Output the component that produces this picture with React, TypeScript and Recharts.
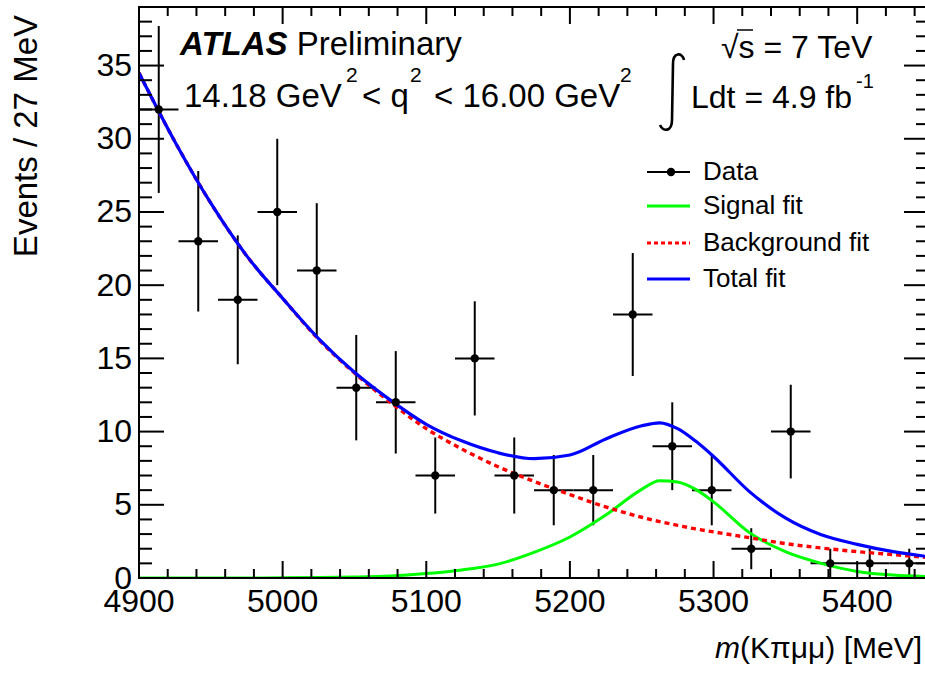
import { ComposedChart, ErrorBar, Line, Scatter, XAxis, YAxis } from "recharts"

// data points: bin centres (27.5 MeV bins), events and sqrt(N) errors
const binCenters = [4913.75, 4941.25, 4968.75, 4996.25, 5023.75, 5051.25, 5078.75, 5106.25, 5133.75, 5161.25, 5188.75, 5216.25, 5243.75, 5271.25, 5298.75, 5326.25, 5353.75, 5381.25, 5408.75, 5436.25]
const events = [32, 23, 19, 25, 21, 13, 12, 7, 15, 7, 6, 6, 18, 9, 6, 2, 10, 1, 1, 1]
const eventErrors = [5.7, 4.8, 4.4, 5.0, 4.6, 3.6, 3.5, 2.6, 3.9, 2.6, 2.4, 2.4, 4.2, 3.0, 2.4, 1.4, 3.2, 1.0, 1.0, 1.0]
const binHalfWidth = 13.75

// fit curves
const curveX = [4900, 4925, 4950, 4975, 5000, 5025, 5050, 5075, 5100, 5125, 5150, 5175, 5200, 5225, 5250, 5262.5, 5275, 5287.5, 5300, 5325, 5350, 5375, 5400, 5425, 5450]
const signalFit = [0, 0, 0, 0, 0.02, 0.03, 0.06, 0.13, 0.3, 0.55, 0.95, 1.75, 2.8, 4.3, 6.05, 6.65, 6.55, 6.05, 5.2, 3.1, 1.8, 1.0, 0.45, 0.2, 0.1]
const backgroundFit = [34.5, 29.8, 25.6, 22.0, 19.1, 16.3, 14.0, 12.0, 10.2, 8.8, 7.6, 6.6, 5.7, 4.85, 4.15, 3.85, 3.6, 3.35, 3.15, 2.75, 2.35, 2.05, 1.8, 1.6, 1.4]
const totalFit = [34.5, 29.8, 25.6, 22.0, 19.1, 16.35, 14.05, 12.15, 10.5, 9.35, 8.55, 8.15, 8.4, 9.5, 10.4, 10.6, 10.2, 9.35, 8.3, 5.9, 4.1, 2.95, 2.3, 1.8, 1.45]

const xMajorTicks = [4900, 5000, 5100, 5200, 5300, 5400]
const yMajorTicks = [0, 5, 10, 15, 20, 25, 30, 35]

const W = 940
const H = 679
const PLOT_LEFT = 139
const PLOT_TOP = 7
const PLOT_RIGHT = 929
const PLOT_BOTTOM = 578
const FONT = "'Liberation Sans', Arial, Helvetica, sans-serif"

const xTicks: number[] = []
for (let v = 4900; v < 5450; v += 20) xTicks.push(v)
const yTicks: number[] = []
for (let v = 0; v <= 39; v += 1) yTicks.push(v)

const points = binCenters.map((x, i) => ({ x, y: events[i], ey: eventErrors[i], ex: binHalfWidth }))
const curves = curveX.map((x, i) => ({ x, signal: signalFit[i], background: backgroundFit[i], total: totalFit[i] }))

const XTick = (props: any) => {
	const { x, payload } = props
	const major = xMajorTicks.includes(payload.value)
	const len = major ? 17 : 9
	return (
		<g>
			<line x1={x} x2={x} y1={PLOT_BOTTOM} y2={PLOT_BOTTOM - len} stroke="#000" strokeWidth={2} />
			<line x1={x} x2={x} y1={PLOT_TOP} y2={PLOT_TOP + len} stroke="#000" strokeWidth={2} />
			{major && (
				<text x={x} y={612} textAnchor="middle" fontSize={32} fontFamily={FONT} fill="#000">
					{payload.value}
				</text>
			)}
		</g>
	)
}

const YTick = (props: any) => {
	const { y, payload } = props
	const major = yMajorTicks.includes(payload.value)
	const len = major ? 25 : 13
	return (
		<g>
			<line x1={PLOT_LEFT} x2={PLOT_LEFT + len} y1={y} y2={y} stroke="#000" strokeWidth={2} />
			<line x1={PLOT_RIGHT} x2={PLOT_RIGHT - len} y1={y} y2={y} stroke="#000" strokeWidth={2} />
			{major && (
				<text x={132} y={y + 10.5} textAnchor="end" fontSize={32} fontFamily={FONT} fill="#000">
					{payload.value}
				</text>
			)}
		</g>
	)
}

const Dot = (props: any) => <circle cx={props.cx} cy={props.cy} r={4.2} fill="#000" />

const Overlay = () => (
	<svg width={W} height={H} style={{ position: "absolute", left: 0, top: 0, pointerEvents: "none" }} fontFamily={FONT}>
		<rect x={PLOT_LEFT} y={PLOT_TOP} width={PLOT_RIGHT - PLOT_LEFT} height={PLOT_BOTTOM - PLOT_TOP} fill="none" stroke="#000" strokeWidth={2} />

		{/* axis titles */}
		<text transform="translate(37,15) rotate(-90)" textAnchor="end" fontSize={33}>Events / 27 MeV</text>
		<text x={922} y={658} textAnchor="end" fontSize={30}>
			<tspan fontStyle="italic">m</tspan>(Kπμμ) [MeV]
		</text>

		{/* labels top left */}
		<text x={180} y={55} fontSize={33}>
			<tspan fontWeight="bold" fontStyle="italic">ATLAS</tspan> Preliminary
		</text>
		<text x={184} y={107} fontSize={33}>14.18 GeV</text>
		<text x={346} y={82} fontSize={21}>2</text>
		<text x={362} y={107} fontSize={33}>&lt; q</text>
		<text x={410} y={82} fontSize={21}>2</text>
		<text x={434} y={107} fontSize={33}>&lt; 16.00 GeV</text>
		<text x={620} y={82} fontSize={21}>2</text>

		{/* energy and luminosity */}
		<text x={721} y={58} fontSize={32}>√s = 7 TeV</text>
		<line x1={737} x2={753} y1={30} y2={30} stroke="#000" strokeWidth={1.5} />
		<path d="M 684 60 C 682 52, 673 52, 673 64 L 672 120 C 672 132, 663 132, 660 125" fill="none" stroke="#000" strokeWidth={2.6} />
		<text x={691} y={108} fontSize={32}>Ldt = 4.9 fb</text>
		<text x={856} y={88} fontSize={20}>-1</text>

		{/* legend */}
		<line x1={647} x2={690} y1={172} y2={172} stroke="#000" strokeWidth={2} />
		<circle cx={671} cy={172} r={4.2} fill="#000" />
		<text x={703} y={180} fontSize={26}>Data</text>
		<line x1={647} x2={690} y1={206} y2={206} stroke="#00ff00" strokeWidth={3} />
		<text x={703} y={214} fontSize={26}>Signal fit</text>
		<line x1={647} x2={690} y1={243} y2={243} stroke="#ff0000" strokeWidth={3} strokeDasharray="4 3" />
		<text x={703} y={251} fontSize={26}>Background fit</text>
		<line x1={647} x2={690} y1={279} y2={279} stroke="#0000ff" strokeWidth={3} />
		<text x={703} y={287} fontSize={26}>Total fit</text>
	</svg>
)

export default function App() {
	return (
		<div style={{ position: "relative", width: W, height: H, background: "#fff" }}>
			<style>{"body{margin:0;overflow:hidden;background:#fff}"}</style>
			<ComposedChart
				width={W}
				height={H}
				data={curves}
				margin={{ top: PLOT_TOP, right: W - PLOT_RIGHT, bottom: H - PLOT_BOTTOM - 60, left: PLOT_LEFT - 60 }}
			>
				<XAxis
					dataKey="x"
					type="number"
					domain={[4900, 5450]}
					ticks={xTicks}
					interval={0}
					tick={(p: any) => <XTick {...p} />}
					tickLine={false}
					axisLine={false}
					height={60}
					allowDataOverflow
				/>
				<YAxis
					type="number"
					domain={[0, 39]}
					ticks={yTicks}
					interval={0}
					tick={(p: any) => <YTick {...p} />}
					tickLine={false}
					axisLine={false}
					width={60}
					allowDataOverflow
				/>
				<Scatter data={points} dataKey="y" shape={Dot} isAnimationActive={false}>
					<ErrorBar dataKey="ey" direction="y" width={0} stroke="#000" strokeWidth={2} isAnimationActive={false} />
					<ErrorBar dataKey="ex" direction="x" width={0} stroke="#000" strokeWidth={2} isAnimationActive={false} />
				</Scatter>
				<Line type="monotone" dataKey="signal" stroke="#00ff00" strokeWidth={3} dot={false} activeDot={false} isAnimationActive={false} />
				<Line type="monotone" dataKey="background" stroke="#ff0000" strokeWidth={3.4} strokeDasharray="5 4" dot={false} activeDot={false} isAnimationActive={false} />
				<Line type="monotone" dataKey="total" stroke="#0000ff" strokeWidth={3.2} dot={false} activeDot={false} isAnimationActive={false} />
			</ComposedChart>
			<Overlay />
		</div>
	)
}
